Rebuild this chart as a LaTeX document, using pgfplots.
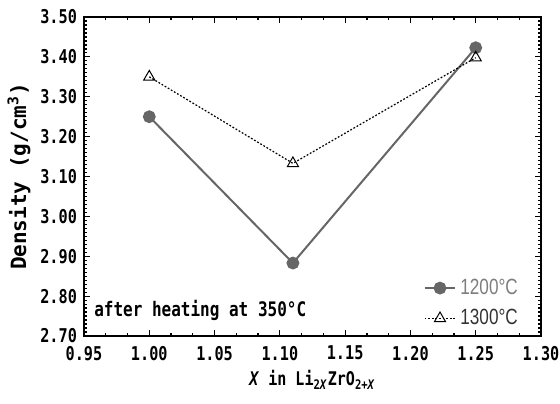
\documentclass[border=0pt]{standalone}
\usepackage{pgfplots}
\pgfplotsset{compat=1.18}
\usepackage{fontspec}
\newfontfamily\monob[FakeStretch=0.8]{DejaVu Sans Mono}
\newfontfamily\monoy[FakeStretch=1.0]{DejaVu Sans Mono}
\newfontfamily\legfont[FakeStretch=0.78]{Liberation Sans}
\definecolor{sergray}{HTML}{666666}
\definecolor{legtwo}{HTML}{333333}
\begin{document}
\begin{tikzpicture}
\path[use as bounding box] (-42pt,-33.5pt) rectangle (238pt,168pt);
\begin{axis}[
  scale only axis,
  width=228.5pt, height=159.5pt,
  xmin=0.95, xmax=1.30, ymin=2.70, ymax=3.50,
  xtick={0.95,1.00,...,1.30},
  ytick={2.70,2.80,...,3.50},
  minor x tick num=2,
  minor y tick num=9,
  axis line style={line width=0.9pt},
  every tick/.style={black, line width=0.6pt},
  major tick length=2.8pt,
  minor tick length=1.4pt,
  tick align=inside,
  /pgf/number format/assume math mode=true,
  xticklabel style={yshift=-1.5pt, /pgf/number format/.cd, fixed, fixed zerofill, precision=2},
  yticklabel style={/pgf/number format/.cd, fixed, fixed zerofill, precision=2},
  ticklabel style={font=\monob\bfseries\fontsize{9.5}{11}\selectfont},
  xlabel={\monob\bfseries\fontsize{9.4}{11}\selectfont \textit{X} in Li\textsubscript{2\textit{X}}ZrO\textsubscript{2+\textit{X}}},
  ylabel={\monoy\bfseries\fontsize{10.5}{12}\selectfont Density (g/cm\textsuperscript{3})},
  xlabel style={yshift=2pt},
  ylabel style={yshift=-2pt},
  legend style={draw=none, fill=none, at={(0.972,0.0)}, anchor=south east,
    font=\legfont\fontsize{11}{13}\selectfont, row sep=2pt,
    /tikz/every even column/.append style={column sep=0pt}},
  legend image code/.code={
    \draw[mark repeat=2,mark phase=2,#1] plot coordinates {(0cm,0cm) (0.27cm,0cm) (0.54cm,0cm)};
  },
  legend cell align=left,
]
\addplot[sergray, line width=1pt, mark=*, mark size=2.7pt, mark options={fill=sergray, draw=sergray}]
  coordinates {(1.00,3.250) (1.11,2.883) (1.25,3.423)};
\addlegendentry{\textcolor{sergray!85!white}{1200°C}}
\addplot[black, line width=0.6pt, dash pattern=on 0.9pt off 0.9pt, mark=triangle, mark size=3.2pt, mark options={solid, fill=white, draw=black, line width=0.5pt}]
  coordinates {(1.00,3.350) (1.11,3.133) (1.25,3.398)};
\addlegendentry{\textcolor{legtwo}{1300°C}}
\node[anchor=west, font=\monob\bfseries\fontsize{10}{12}\selectfont] at (rel axis cs:0.007,0.08) {after heating at 350°C};
\end{axis}
\end{tikzpicture}
\end{document}
